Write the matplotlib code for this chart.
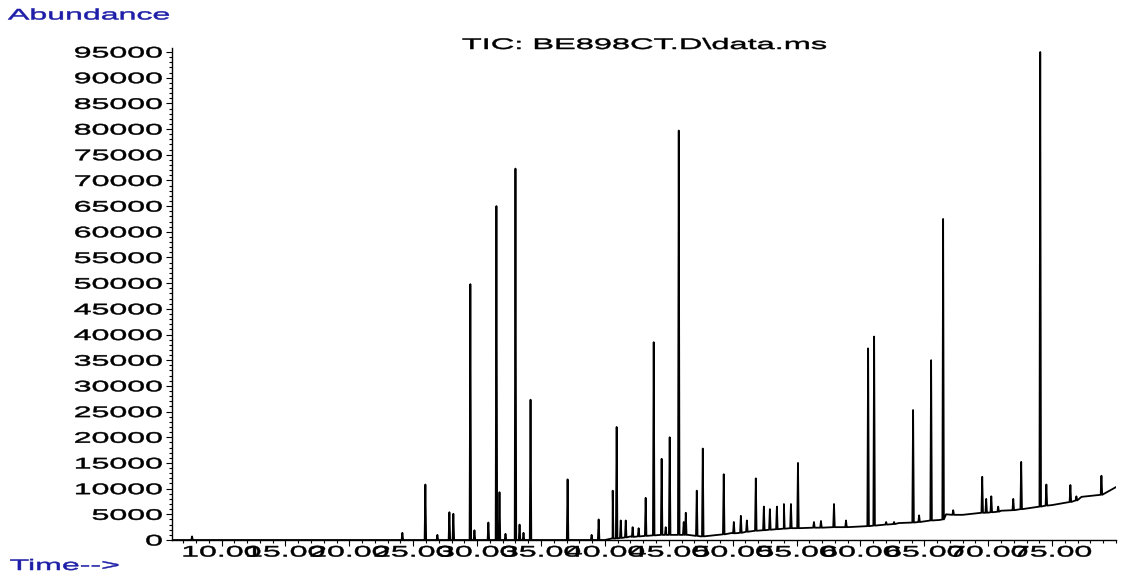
import numpy as np
import matplotlib
matplotlib.use('Agg')
import matplotlib.pyplot as plt
from matplotlib.patheffects import AbstractPathEffect
from matplotlib.transforms import Affine2D
from matplotlib.ticker import MultipleLocator, FormatStrFormatter

# baseline of the TIC trace (min, abundance)
base_t = [6.1, 40.0, 40.6, 42.0, 45.0, 46.5, 47.5, 50.0, 54.0, 59.0, 63.0, 66.2, 66.7, 68.0, 71.0, 75.0, 77.3, 80.0]
base_y = [0, 0, 300, 700, 1000, 1000, 700, 1400, 2300, 2500, 3300, 3900, 5000, 4900, 5700, 6800, 8400, 10300]

# peaks: retention time (min), apex, baseline under the peak
peak_t = [7.69, 24.15, 25.95, 26.89, 27.83, 28.14, 29.47, 29.79, 30.88, 31.51,
          31.75, 32.22, 33.00, 33.32, 33.63, 34.18, 37.08, 38.96, 39.51, 40.61,
          40.92, 41.24, 41.63, 42.17, 42.64, 43.19, 43.82, 44.44, 44.76, 45.07,
          45.78, 46.17, 46.33, 47.19, 47.66, 49.30, 50.09, 50.64, 51.11, 51.81,
          52.44, 52.91, 53.46, 54.01, 54.56, 55.11, 56.36, 56.91, 57.93, 58.87,
          60.60, 61.07, 62.01, 62.63, 64.12, 64.59, 65.53, 66.47, 67.26, 69.53,
          69.84, 70.24, 70.78, 71.96, 72.58, 74.07, 74.55, 76.43, 76.90, 78.86]
peak_top = [700, 1400, 10800, 1000, 5400, 5100, 49800, 1900, 3400, 65000,
            9300, 1200, 72300, 3000, 1400, 27300, 11800, 1000, 4000, 9600,
            22000, 3800, 3800, 2500, 2300, 8200, 38500, 15800, 2500, 20000,
            79700, 3500, 5300, 9600, 17800, 12800, 3500, 4700, 3800, 12000,
            6500, 6000, 6500, 7000, 7000, 15000, 3500, 3700, 7000, 3800,
            37300, 39600, 3500, 3500, 25300, 4800, 35000, 62500, 5800, 12300,
            8000, 8500, 6500, 8000, 15200, 95000, 10800, 10700, 8500, 12500]
peak_base = [0, 0, 0, 0, 0, 0, 0, 0, 0, 0,
             0, 0, 0, 0, 0, 0, 0, 0, 0, 300,
             300, 400, 500, 600, 700, 800, 900, 1000, 1000, 1000,
             1000, 1000, 1000, 800, 700, 1100, 1300, 1400, 1600, 1800,
             1900, 2000, 2100, 2200, 2300, 2300, 2400, 2400, 2500, 2500,
             2700, 2800, 3000, 3100, 3400, 3500, 3800, 4000, 4900, 5300,
             5300, 5400, 5500, 5800, 6000, 6500, 6700, 7400, 7700, 8800]

xticks = [10, 15, 20, 25, 30, 35, 40, 45, 50, 55, 60, 65, 70, 75]
yticks = list(range(0, 95001, 5000))

BLUE = '#1e1ea8'


class Wide(AbstractPathEffect):
    # the screenshot is stretched sideways, so stretch the glyphs too
    def __init__(self, sx=2.1, anchor='center', lw=0.35):
        super().__init__()
        self.sx = sx
        self.anchor = anchor
        self.lw = lw

    def draw_path(self, renderer, gc, tpath, affine, rgbFace=None):
        bb = tpath.get_extents(affine)
        if self.anchor == 'left':
            cx = bb.x0
        elif self.anchor == 'right':
            cx = bb.x1
        else:
            cx = (bb.x0 + bb.x1) / 2
        tr = affine + Affine2D().translate(-cx, 0).scale(self.sx, 1).translate(cx, 0)
        gc0 = renderer.new_gc()
        gc0.copy_properties(gc)
        gc0.set_linewidth(self.lw)
        gc0.set_foreground(rgbFace)
        renderer.draw_path(gc0, tpath, tr, rgbFace)
        gc0.restore()


# build the trace from the peak list
w = 0.06
tt = list(base_t)
yy = list(base_y)
for t, top, b in zip(peak_t, peak_top, peak_base):
    tt += [t - w, t, t + w]
    yy += [b, top, b]
order = np.argsort(tt, kind='stable')
tt = np.array(tt)[order]
yy = np.array(yy)[order]

plt.rcParams['font.family'] = ['Liberation Sans', 'DejaVu Sans']

fig = plt.figure(figsize=(11.24, 5.77), dpi=100)
ax = fig.add_axes([172 / 1124, 37 / 577, 944 / 1124, 492 / 577])
ax.plot(tt, yy, '-', c='black', lw=1.3)

ax.set_xlim(6.12, 80.0)
ax.set_ylim(0, 95780)
for s in ['top', 'right']:
    ax.spines[s].set_visible(False)
for s in ['left', 'bottom']:
    ax.spines[s].set_linewidth(1.0)

ax.set_xticks(xticks)
ax.set_yticks(yticks)
ax.xaxis.set_minor_locator(MultipleLocator(1))
ax.yaxis.set_minor_locator(MultipleLocator(1000))
ax.xaxis.set_major_formatter(FormatStrFormatter('%.2f'))
ax.yaxis.set_major_formatter(FormatStrFormatter('%d'))
ax.tick_params(axis='x', which='major', length=4, width=0.8, pad=0, labelsize=11)
ax.tick_params(axis='x', which='minor', length=2.5, width=0.8)
ax.tick_params(axis='y', which='major', length=4, width=0.8, pad=3, labelsize=11)
ax.tick_params(axis='y', which='minor', length=2, width=0.8)

for lab in ax.get_xticklabels():
    lab.set_path_effects([Wide(2.1, 'center')])
for lab in ax.get_yticklabels():
    lab.set_path_effects([Wide(2.1, 'right')])

fig.text(644 / 1124, 1 - 45 / 577, 'TIC: BE898CT.D\\data.ms', ha='center', va='center',
         fontsize=11, path_effects=[Wide(2.13, 'center')])
fig.text(8 / 1124, 1 - 15.5 / 577, 'Abundance', ha='left', va='center', color=BLUE,
         fontsize=11, path_effects=[Wide(2.1, 'left')])
fig.text(10 / 1124, 1 - 566 / 577, 'Time-->', ha='left', va='center', color=BLUE,
         fontsize=11, path_effects=[Wide(2.1, 'left')])

fig.savefig('out.png', dpi=100)
